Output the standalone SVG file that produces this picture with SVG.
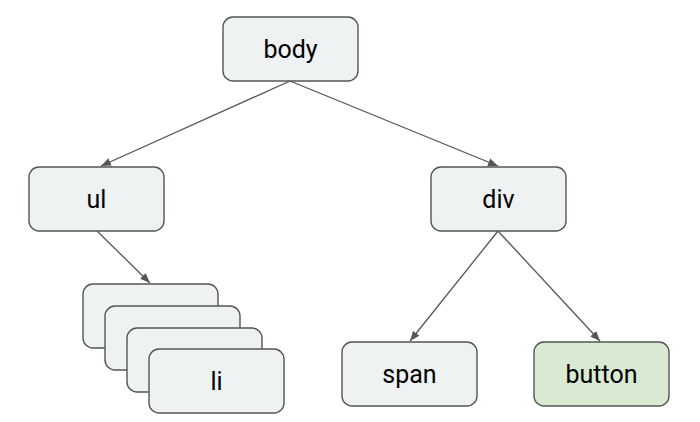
<svg xmlns="http://www.w3.org/2000/svg" width="700" height="422" viewBox="0 0 700 422">
<style>
.n{fill:#eff2f3;stroke:#555;stroke-width:1.4}
.g{fill:#d9ead3}
.t{font-family:Roboto,"Liberation Sans",sans-serif;font-size:25px;fill:#000;text-anchor:middle}
.c{stroke:#555;stroke-width:1.3;fill:none;marker-end:url(#a)}
</style>
<defs>
<marker id="a" viewBox="0 0 10 10" refX="10" refY="5" markerWidth="10" markerHeight="10" markerUnits="userSpaceOnUse" orient="auto">
<path d="M0,1 L10,5 L0,9 z" fill="#555"/>
</marker>
</defs>
<rect width="700" height="422" fill="#fff"/>
<g id="connectors">
<line class="c" x1="290" y1="81" x2="101" y2="166"/>
<line class="c" x1="290" y1="81" x2="498" y2="166"/>
<line class="c" x1="97" y1="231" x2="150" y2="283"/>
<line class="c" x1="498" y1="231" x2="410" y2="341"/>
<line class="c" x1="498" y1="231" x2="600" y2="341"/>
</g>
<g id="body"><rect class="n" x="223" y="17" width="135" height="64" rx="10"/><text class="t" x="290.5" y="58">body</text></g>
<g id="ul"><rect class="n" x="29" y="167" width="135" height="64" rx="10"/><text class="t" x="96.5" y="208">ul</text></g>
<g id="div"><rect class="n" x="431" y="167" width="135" height="64" rx="10"/><text class="t" x="498.5" y="208">div</text></g>
<g id="li">
<rect class="n" x="83" y="284" width="135" height="64" rx="10"/>
<rect class="n" x="105" y="306" width="135" height="64" rx="10"/>
<rect class="n" x="127" y="328" width="135" height="64" rx="10"/>
<rect class="n" x="149" y="349" width="135" height="64" rx="10"/>
<text class="t" x="216.5" y="390">li</text>
</g>
<g id="span"><rect class="n" x="342" y="342" width="135" height="64" rx="10"/><text class="t" x="409.5" y="383">span</text></g>
<g id="button"><rect class="n g" x="534" y="342" width="135" height="64" rx="10"/><text class="t" x="601.5" y="383">button</text></g>
</svg>
